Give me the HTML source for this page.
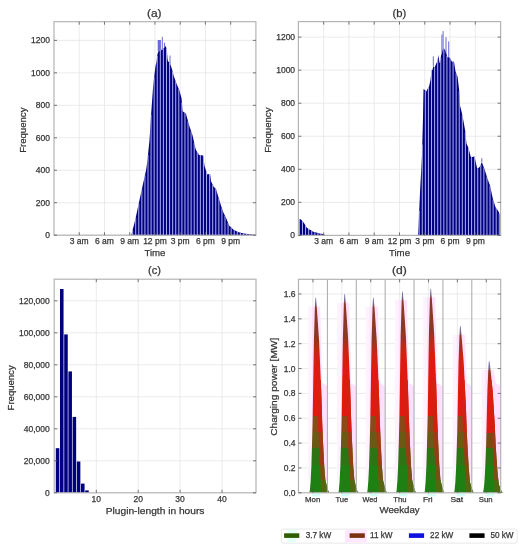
<!DOCTYPE html><html><head><meta charset="utf-8"><style>html,body{margin:0;padding:0;background:#fff;overflow:hidden;width:526px;height:550px;}svg{display:block;filter:blur(0.4px);} text{font-family:"Liberation Sans",sans-serif;}</style></head><body><svg width="526" height="550" viewBox="0 0 526 550" font-family="Liberation Sans, sans-serif">
<rect width="526" height="550" fill="#fff"/>
<line x1="79.24" y1="21.7" x2="79.24" y2="235.2" stroke="#e6e6e6" stroke-width="0.8" />
<line x1="104.47" y1="21.7" x2="104.47" y2="235.2" stroke="#e6e6e6" stroke-width="0.8" />
<line x1="129.71" y1="21.7" x2="129.71" y2="235.2" stroke="#e6e6e6" stroke-width="0.8" />
<line x1="154.95" y1="21.7" x2="154.95" y2="235.2" stroke="#e6e6e6" stroke-width="0.8" />
<line x1="180.19" y1="21.7" x2="180.19" y2="235.2" stroke="#e6e6e6" stroke-width="0.8" />
<line x1="205.43" y1="21.7" x2="205.43" y2="235.2" stroke="#e6e6e6" stroke-width="0.8" />
<line x1="230.66" y1="21.7" x2="230.66" y2="235.2" stroke="#e6e6e6" stroke-width="0.8" />
<line x1="54" y1="235.2" x2="255.9" y2="235.2" stroke="#e6e6e6" stroke-width="0.8" />
<line x1="54" y1="202.73" x2="255.9" y2="202.73" stroke="#e6e6e6" stroke-width="0.8" />
<line x1="54" y1="170.26" x2="255.9" y2="170.26" stroke="#e6e6e6" stroke-width="0.8" />
<line x1="54" y1="137.79" x2="255.9" y2="137.79" stroke="#e6e6e6" stroke-width="0.8" />
<line x1="54" y1="105.32" x2="255.9" y2="105.32" stroke="#e6e6e6" stroke-width="0.8" />
<line x1="54" y1="72.85" x2="255.9" y2="72.85" stroke="#e6e6e6" stroke-width="0.8" />
<line x1="54" y1="40.38" x2="255.9" y2="40.38" stroke="#e6e6e6" stroke-width="0.8" />
<path d="M131,235.2 L131,235.2 L131.5,234.5 L132,232.54 L132.5,230.58 L133,228.62 L133.5,226.66 L134,224.7 L134.5,222.74 L135,220.78 L135.5,218.6 L136,216.28 L136.5,213.95 L137,211.63 L137.5,209.3 L138,206.98 L138.5,204.65 L139,202.33 L139.5,200 L140,197.73 L140.5,195.45 L141,193.18 L141.5,190.91 L142,188.64 L142.5,186.36 L143,184.09 L143.5,181.82 L144,179.55 L144.5,177.27 L145,175 L145.5,172.73 L146,170.45 L146.5,167.14 L147,163.57 L147.5,160 L148,155 L148.5,150 L149,145 L149.5,140 L150,131.89 L150.5,123.79 L151,115.91 L151.5,108.95 L152,102 L152.5,95.05 L153,88.09 L153.5,83.25 L154,78.94 L154.5,74.62 L155,70.31 L155.5,66 L156,64 L156.5,62 L157,58 L157.5,54 L158,52.59 L158.5,51.18 L159,50.71 L159.5,50.47 L160,50.24 L160.5,50 L161,49.89 L161.5,49.77 L162,49.66 L162.5,49.55 L163,49.08 L163.5,48.39 L164,47.69 L164.5,47 L165,46.61 L165.5,46.21 L166,46.45 L166.5,49.23 L167,52 L167.5,58.71 L168,61.5 L168.5,61.67 L169,61.83 L169.5,62 L170,63.43 L170.5,64.87 L171,66.3 L171.5,67.74 L172,69.37 L172.5,71.28 L173,73.2 L173.5,75.12 L174,76.65 L174.5,78.09 L175,79.53 L175.5,80.96 L176,82.4 L176.5,83.59 L177,84.78 L177.5,85.97 L178,87.16 L178.5,88.36 L179,89.55 L179.5,90.87 L180,92.7 L180.5,94.53 L181,96.37 L181.5,98.2 L182,104.15 L182.5,110.11 L183,111.57 L183.5,111.9 L184,112.23 L184.5,112.57 L185,112.9 L185.5,113.23 L186,113.86 L186.5,115.68 L187,117.5 L187.5,119.32 L188,121.14 L188.5,122.95 L189,124.77 L189.5,126.39 L190,127.88 L190.5,129.36 L191,130.85 L191.5,132.33 L192,133.82 L192.5,135.3 L193,137.52 L193.5,139.74 L194,141.96 L194.5,144.18 L195,146.39 L195.5,148.61 L196,149.99 L196.5,150.81 L197,151.63 L197.5,152.45 L198,153.26 L198.5,154.08 L199,154.9 L199.5,154.97 L200,155.04 L200.5,155.1 L201,155.17 L201.5,155.24 L202,155.31 L202.5,155.38 L203,155.45 L203.5,156.53 L204,161.68 L204.5,166.1 L205,167.6 L205.5,169.1 L206,170.6 L206.5,172.1 L207,173.6 L207.5,174.45 L208,174.33 L208.5,174.21 L209,174.09 L209.5,173.97 L210,173.85 L210.5,176.93 L211,181.3 L211.5,182.3 L212,183.3 L212.5,184.3 L213,185.3 L213.5,186.3 L214,187.1 L214.5,187.6 L215,188.1 L215.5,188.6 L216,189.1 L216.5,190.76 L217,192.42 L217.5,194.08 L218,195.74 L218.5,197.38 L219,199.02 L219.5,200.65 L220,202.29 L220.5,203.9 L221,205.42 L221.5,206.94 L222,208.46 L222.5,209.97 L223,211.49 L223.5,212.8 L224,213.8 L224.5,214.8 L225,215.8 L225.5,216.8 L226,217.8 L226.5,218.96 L227,220.21 L227.5,221.47 L228,222.73 L228.5,223.99 L229,225.25 L229.5,225.89 L230,226.38 L230.5,226.87 L231,227.36 L231.5,227.85 L232,228.33 L232.5,228.82 L233,229.31 L233.5,229.8 L234,230.06 L234.5,230.31 L235,230.57 L235.5,230.82 L236,231.08 L236.5,231.33 L237,231.59 L237.5,231.85 L238,232.05 L238.5,232.18 L239,232.31 L239.5,232.44 L240,232.57 L240.5,232.7 L241,232.83 L241.5,232.96 L242,233.09 L242.5,233.22 L243,233.34 L243.5,233.47 L244,233.55 L244.5,233.61 L245,233.67 L245.5,233.73 L246,233.78 L246.5,233.84 L247,233.9 L247.5,233.96 L248,234.02 L248.5,234.08 L249,234.14 L249.5,234.2 L250,234.26 L250.5,234.32 L251,234.39 L251.5,234.45 L252,234.51 L252.5,234.57 L253,234.64 L253.5,234.7 L254,234.76 L254.5,234.82 L255,234.89 L255.5,234.95 L255.9,235 L255.9,235.2 Z" fill="#000080"/>
<rect x="157.7" y="40" width="3.2" height="11.07" fill="#6a6ad8"/>
<rect x="161.8" y="36.8" width="1" height="13.29" fill="#6a6ad8"/>
<rect x="164" y="42.7" width="1" height="4.8" fill="#6a6ad8"/>
<rect x="169.5" y="55.5" width="1" height="8.43" fill="#6a6ad8"/>
<line x1="132.6" y1="230.19" x2="132.6" y2="235.2" stroke="#c4c4ff" stroke-width="1.05" stroke-opacity="0.85"/>
<line x1="135.68" y1="217.77" x2="135.68" y2="235.2" stroke="#c4c4ff" stroke-width="1.05" stroke-opacity="0.85"/>
<line x1="138.76" y1="203.44" x2="138.76" y2="235.2" stroke="#c4c4ff" stroke-width="1.05" stroke-opacity="0.85"/>
<line x1="141.84" y1="189.36" x2="141.84" y2="235.2" stroke="#c4c4ff" stroke-width="1.05" stroke-opacity="0.85"/>
<line x1="144.92" y1="175.36" x2="144.92" y2="235.2" stroke="#c4c4ff" stroke-width="1.05" stroke-opacity="0.85"/>
<line x1="148" y1="155" x2="148" y2="235.2" stroke="#c4c4ff" stroke-width="1.05" stroke-opacity="0.85"/>
<line x1="151.08" y1="114.8" x2="151.08" y2="235.2" stroke="#c4c4ff" stroke-width="1.05" stroke-opacity="0.85"/>
<line x1="154.16" y1="77.56" x2="154.16" y2="235.2" stroke="#c4c4ff" stroke-width="1.05" stroke-opacity="0.85"/>
<line x1="157.24" y1="56.08" x2="157.24" y2="235.2" stroke="#c4c4ff" stroke-width="1.05" stroke-opacity="0.85"/>
<line x1="160.32" y1="50.09" x2="160.32" y2="235.2" stroke="#c4c4ff" stroke-width="1.05" stroke-opacity="0.85"/>
<line x1="163.4" y1="48.53" x2="163.4" y2="235.2" stroke="#c4c4ff" stroke-width="1.05" stroke-opacity="0.85"/>
<line x1="166.48" y1="49.12" x2="166.48" y2="235.2" stroke="#c4c4ff" stroke-width="1.05" stroke-opacity="0.85"/>
<line x1="169.56" y1="62.17" x2="169.56" y2="235.2" stroke="#c4c4ff" stroke-width="1.05" stroke-opacity="0.85"/>
<line x1="172.64" y1="71.82" x2="172.64" y2="235.2" stroke="#c4c4ff" stroke-width="1.05" stroke-opacity="0.85"/>
<line x1="175.72" y1="81.6" x2="175.72" y2="235.2" stroke="#c4c4ff" stroke-width="1.05" stroke-opacity="0.85"/>
<line x1="178.8" y1="89.07" x2="178.8" y2="235.2" stroke="#c4c4ff" stroke-width="1.05" stroke-opacity="0.85"/>
<line x1="181.88" y1="102.73" x2="181.88" y2="235.2" stroke="#c4c4ff" stroke-width="1.05" stroke-opacity="0.85"/>
<line x1="184.96" y1="112.87" x2="184.96" y2="235.2" stroke="#c4c4ff" stroke-width="1.05" stroke-opacity="0.85"/>
<line x1="188.04" y1="121.28" x2="188.04" y2="235.2" stroke="#c4c4ff" stroke-width="1.05" stroke-opacity="0.85"/>
<line x1="191.12" y1="131.2" x2="191.12" y2="235.2" stroke="#c4c4ff" stroke-width="1.05" stroke-opacity="0.85"/>
<line x1="194.2" y1="142.84" x2="194.2" y2="235.2" stroke="#c4c4ff" stroke-width="1.05" stroke-opacity="0.85"/>
<line x1="197.28" y1="152.09" x2="197.28" y2="235.2" stroke="#c4c4ff" stroke-width="1.05" stroke-opacity="0.85"/>
<line x1="200.36" y1="155.09" x2="200.36" y2="235.2" stroke="#c4c4ff" stroke-width="1.05" stroke-opacity="0.85"/>
<line x1="203.44" y1="155.91" x2="203.44" y2="235.2" stroke="#c4c4ff" stroke-width="1.05" stroke-opacity="0.85"/>
<line x1="206.52" y1="172.16" x2="206.52" y2="235.2" stroke="#c4c4ff" stroke-width="1.05" stroke-opacity="0.85"/>
<line x1="209.6" y1="173.94" x2="209.6" y2="235.2" stroke="#c4c4ff" stroke-width="1.05" stroke-opacity="0.85"/>
<line x1="212.68" y1="184.66" x2="212.68" y2="235.2" stroke="#c4c4ff" stroke-width="1.05" stroke-opacity="0.85"/>
<line x1="215.76" y1="188.86" x2="215.76" y2="235.2" stroke="#c4c4ff" stroke-width="1.05" stroke-opacity="0.85"/>
<line x1="218.84" y1="198.49" x2="218.84" y2="235.2" stroke="#c4c4ff" stroke-width="1.05" stroke-opacity="0.85"/>
<line x1="221.92" y1="208.21" x2="221.92" y2="235.2" stroke="#c4c4ff" stroke-width="1.05" stroke-opacity="0.85"/>
<line x1="225" y1="215.8" x2="225" y2="235.2" stroke="#c4c4ff" stroke-width="1.05" stroke-opacity="0.85"/>
<line x1="228.08" y1="222.93" x2="228.08" y2="235.2" stroke="#c4c4ff" stroke-width="1.05" stroke-opacity="0.85"/>
<line x1="231.16" y1="227.51" x2="231.16" y2="235.2" stroke="#c4c4ff" stroke-width="1.05" stroke-opacity="0.85"/>
<line x1="234.24" y1="230.18" x2="234.24" y2="235.2" stroke="#c4c4ff" stroke-width="1.05" stroke-opacity="0.85"/>
<line x1="237.32" y1="231.75" x2="237.32" y2="235.2" stroke="#c4c4ff" stroke-width="1.05" stroke-opacity="0.85"/>
<line x1="240.4" y1="232.67" x2="240.4" y2="235.2" stroke="#c4c4ff" stroke-width="1.05" stroke-opacity="0.85"/>
<line x1="243.48" y1="233.47" x2="243.48" y2="235.2" stroke="#c4c4ff" stroke-width="1.05" stroke-opacity="0.85"/>
<line x1="246.56" y1="233.85" x2="246.56" y2="235.2" stroke="#c4c4ff" stroke-width="1.05" stroke-opacity="0.85"/>
<line x1="249.64" y1="234.22" x2="249.64" y2="235.2" stroke="#c4c4ff" stroke-width="1.05" stroke-opacity="0.85"/>
<line x1="252.72" y1="234.6" x2="252.72" y2="235.2" stroke="#c4c4ff" stroke-width="1.05" stroke-opacity="0.85"/>
<line x1="255.8" y1="234.99" x2="255.8" y2="235.2" stroke="#c4c4ff" stroke-width="1.05" stroke-opacity="0.85"/>
<rect x="54" y="21.7" width="201.9" height="213.5" fill="none" stroke="#b4b4b4" stroke-width="1.2"/>
<line x1="79.24" y1="235.2" x2="79.24" y2="232.2" stroke="#555" stroke-width="0.8" />
<line x1="79.24" y1="21.7" x2="79.24" y2="24.7" stroke="#555" stroke-width="0.8" />
<line x1="104.47" y1="235.2" x2="104.47" y2="232.2" stroke="#555" stroke-width="0.8" />
<line x1="104.47" y1="21.7" x2="104.47" y2="24.7" stroke="#555" stroke-width="0.8" />
<line x1="129.71" y1="235.2" x2="129.71" y2="232.2" stroke="#555" stroke-width="0.8" />
<line x1="129.71" y1="21.7" x2="129.71" y2="24.7" stroke="#555" stroke-width="0.8" />
<line x1="154.95" y1="235.2" x2="154.95" y2="232.2" stroke="#555" stroke-width="0.8" />
<line x1="154.95" y1="21.7" x2="154.95" y2="24.7" stroke="#555" stroke-width="0.8" />
<line x1="180.19" y1="235.2" x2="180.19" y2="232.2" stroke="#555" stroke-width="0.8" />
<line x1="180.19" y1="21.7" x2="180.19" y2="24.7" stroke="#555" stroke-width="0.8" />
<line x1="205.43" y1="235.2" x2="205.43" y2="232.2" stroke="#555" stroke-width="0.8" />
<line x1="205.43" y1="21.7" x2="205.43" y2="24.7" stroke="#555" stroke-width="0.8" />
<line x1="230.66" y1="235.2" x2="230.66" y2="232.2" stroke="#555" stroke-width="0.8" />
<line x1="230.66" y1="21.7" x2="230.66" y2="24.7" stroke="#555" stroke-width="0.8" />
<line x1="54" y1="235.2" x2="57" y2="235.2" stroke="#555" stroke-width="0.8" />
<line x1="255.9" y1="235.2" x2="252.9" y2="235.2" stroke="#555" stroke-width="0.8" />
<line x1="54" y1="202.73" x2="57" y2="202.73" stroke="#555" stroke-width="0.8" />
<line x1="255.9" y1="202.73" x2="252.9" y2="202.73" stroke="#555" stroke-width="0.8" />
<line x1="54" y1="170.26" x2="57" y2="170.26" stroke="#555" stroke-width="0.8" />
<line x1="255.9" y1="170.26" x2="252.9" y2="170.26" stroke="#555" stroke-width="0.8" />
<line x1="54" y1="137.79" x2="57" y2="137.79" stroke="#555" stroke-width="0.8" />
<line x1="255.9" y1="137.79" x2="252.9" y2="137.79" stroke="#555" stroke-width="0.8" />
<line x1="54" y1="105.32" x2="57" y2="105.32" stroke="#555" stroke-width="0.8" />
<line x1="255.9" y1="105.32" x2="252.9" y2="105.32" stroke="#555" stroke-width="0.8" />
<line x1="54" y1="72.85" x2="57" y2="72.85" stroke="#555" stroke-width="0.8" />
<line x1="255.9" y1="72.85" x2="252.9" y2="72.85" stroke="#555" stroke-width="0.8" />
<line x1="54" y1="40.38" x2="57" y2="40.38" stroke="#555" stroke-width="0.8" />
<line x1="255.9" y1="40.38" x2="252.9" y2="40.38" stroke="#555" stroke-width="0.8" />
<text x="79.24" y="243.9" font-size="8.5" text-anchor="middle" fill="#363636" stroke="#363636" stroke-width="0.25" >3 am</text>
<text x="104.47" y="243.9" font-size="8.5" text-anchor="middle" fill="#363636" stroke="#363636" stroke-width="0.25" >6 am</text>
<text x="129.71" y="243.9" font-size="8.5" text-anchor="middle" fill="#363636" stroke="#363636" stroke-width="0.25" >9 am</text>
<text x="154.95" y="243.9" font-size="8.5" text-anchor="middle" fill="#363636" stroke="#363636" stroke-width="0.25" >12 pm</text>
<text x="180.19" y="243.9" font-size="8.5" text-anchor="middle" fill="#363636" stroke="#363636" stroke-width="0.25" >3 pm</text>
<text x="205.43" y="243.9" font-size="8.5" text-anchor="middle" fill="#363636" stroke="#363636" stroke-width="0.25" >6 pm</text>
<text x="230.66" y="243.9" font-size="8.5" text-anchor="middle" fill="#363636" stroke="#363636" stroke-width="0.25" >9 pm</text>
<text x="50" y="238.2" font-size="8.5" text-anchor="end" fill="#363636" stroke="#363636" stroke-width="0.25" >0</text>
<text x="50" y="205.73" font-size="8.5" text-anchor="end" fill="#363636" stroke="#363636" stroke-width="0.25" >200</text>
<text x="50" y="173.26" font-size="8.5" text-anchor="end" fill="#363636" stroke="#363636" stroke-width="0.25" >400</text>
<text x="50" y="140.79" font-size="8.5" text-anchor="end" fill="#363636" stroke="#363636" stroke-width="0.25" >600</text>
<text x="50" y="108.32" font-size="8.5" text-anchor="end" fill="#363636" stroke="#363636" stroke-width="0.25" >800</text>
<text x="50" y="75.85" font-size="8.5" text-anchor="end" fill="#363636" stroke="#363636" stroke-width="0.25" >1000</text>
<text x="50" y="43.38" font-size="8.5" text-anchor="end" fill="#363636" stroke="#363636" stroke-width="0.25" >1200</text>
<text x="154.95" y="256.4" font-size="9.8" text-anchor="middle" fill="#363636" stroke="#363636" stroke-width="0.25" textLength="21.1" lengthAdjust="spacingAndGlyphs" >Time</text>
<text x="154.25" y="16.6" font-size="10.5" text-anchor="middle" fill="#363636" stroke="#363636" stroke-width="0.25" textLength="14.6" lengthAdjust="spacingAndGlyphs" >(a)</text>
<text x="26.2" y="130.2" font-size="9" text-anchor="middle" fill="#363636" stroke="#363636" stroke-width="0.25" textLength="45.3" lengthAdjust="spacingAndGlyphs" transform="rotate(-90 26.2 130.2)" >Frequency</text>
<line x1="323.67" y1="21.6" x2="323.67" y2="235.4" stroke="#e6e6e6" stroke-width="0.8" />
<line x1="348.95" y1="21.6" x2="348.95" y2="235.4" stroke="#e6e6e6" stroke-width="0.8" />
<line x1="374.23" y1="21.6" x2="374.23" y2="235.4" stroke="#e6e6e6" stroke-width="0.8" />
<line x1="399.5" y1="21.6" x2="399.5" y2="235.4" stroke="#e6e6e6" stroke-width="0.8" />
<line x1="424.78" y1="21.6" x2="424.78" y2="235.4" stroke="#e6e6e6" stroke-width="0.8" />
<line x1="450.05" y1="21.6" x2="450.05" y2="235.4" stroke="#e6e6e6" stroke-width="0.8" />
<line x1="475.33" y1="21.6" x2="475.33" y2="235.4" stroke="#e6e6e6" stroke-width="0.8" />
<line x1="298.4" y1="235.4" x2="500.6" y2="235.4" stroke="#e6e6e6" stroke-width="0.8" />
<line x1="298.4" y1="202.35" x2="500.6" y2="202.35" stroke="#e6e6e6" stroke-width="0.8" />
<line x1="298.4" y1="169.3" x2="500.6" y2="169.3" stroke="#e6e6e6" stroke-width="0.8" />
<line x1="298.4" y1="136.25" x2="500.6" y2="136.25" stroke="#e6e6e6" stroke-width="0.8" />
<line x1="298.4" y1="103.2" x2="500.6" y2="103.2" stroke="#e6e6e6" stroke-width="0.8" />
<line x1="298.4" y1="70.15" x2="500.6" y2="70.15" stroke="#e6e6e6" stroke-width="0.8" />
<line x1="298.4" y1="37.1" x2="500.6" y2="37.1" stroke="#e6e6e6" stroke-width="0.8" />
<path d="M298.4,235.4 L298.4,218.6 L298.9,218.75 L299.4,218.89 L299.9,219.04 L300.4,219.29 L300.9,219.61 L301.4,219.94 L301.9,220.43 L302.4,220.97 L302.9,221.55 L303.4,222.3 L303.9,223.05 L304.4,223.8 L304.9,224.61 L305.4,225.45 L305.9,226.29 L306.4,227.13 L306.9,227.63 L307.4,228.04 L307.9,228.45 L308.4,228.85 L308.9,229.2 L309.4,229.45 L309.9,229.7 L310.4,229.95 L310.9,230.26 L311.4,230.58 L311.9,230.9 L312.4,231.22 L312.9,231.54 L313.4,231.82 L313.9,231.95 L314.4,232.07 L314.9,232.2 L315.4,232.32 L315.9,232.45 L316.4,232.57 L316.9,232.7 L317.4,232.85 L317.9,233 L318.4,233.14 L318.9,233.29 L319.4,233.44 L319.9,233.55 L320.4,233.63 L320.9,233.71 L321.4,233.79 L321.9,233.87 L322.4,233.95 L322.9,234.04 L323.4,234.15 L323.9,234.4 L324.4,234.65 L324.9,234.9 L325.4,235.15 L325.9,235.2 L326,235.2 L326,235.4 Z" fill="#000080"/>
<line x1="299.4" y1="218.89" x2="299.4" y2="235.4" stroke="#c4c4ff" stroke-width="1.05" stroke-opacity="0.85"/>
<line x1="302.48" y1="221.06" x2="302.48" y2="235.4" stroke="#c4c4ff" stroke-width="1.05" stroke-opacity="0.85"/>
<line x1="305.56" y1="225.72" x2="305.56" y2="235.4" stroke="#c4c4ff" stroke-width="1.05" stroke-opacity="0.85"/>
<line x1="308.64" y1="229.05" x2="308.64" y2="235.4" stroke="#c4c4ff" stroke-width="1.05" stroke-opacity="0.85"/>
<line x1="311.72" y1="230.78" x2="311.72" y2="235.4" stroke="#c4c4ff" stroke-width="1.05" stroke-opacity="0.85"/>
<line x1="314.8" y1="232.17" x2="314.8" y2="235.4" stroke="#c4c4ff" stroke-width="1.05" stroke-opacity="0.85"/>
<line x1="317.88" y1="232.99" x2="317.88" y2="235.4" stroke="#c4c4ff" stroke-width="1.05" stroke-opacity="0.85"/>
<line x1="320.96" y1="233.72" x2="320.96" y2="235.4" stroke="#c4c4ff" stroke-width="1.05" stroke-opacity="0.85"/>
<line x1="324.04" y1="234.47" x2="324.04" y2="235.4" stroke="#c4c4ff" stroke-width="1.05" stroke-opacity="0.85"/>
<path d="M418,235.4 L418,235.4 L418.5,227 L419,215.56 L419.5,204.14 L420,192.76 L420.5,182.74 L421,173.64 L421.5,164.56 L422,155.5 L422.5,136.4 L423,117.3 L423.5,89.12 L424,89.41 L424.5,89.71 L425,90 L425.5,90.75 L426,91.5 L426.5,91.15 L427,90.08 L427.5,89 L428,88.32 L428.5,87.64 L429,86.66 L429.5,84.44 L430,82.22 L430.5,80 L431,75 L431.5,70 L432,70 L432.5,70 L433,67.5 L433.5,66.33 L434,67.17 L434.5,68 L435,66.6 L435.5,65.2 L436,64.13 L436.5,63.07 L437,62 L437.5,60 L438,58 L438.5,56 L439,59.31 L439.5,62.62 L440,63.17 L440.5,59.58 L441,56 L441.5,54 L442,52 L442.5,50 L443,49.1 L443.5,48.2 L444,48.76 L444.5,49.31 L445,49.87 L445.5,50.83 L446,52.42 L446.5,54 L447,56.31 L447.5,57.58 L448,57.29 L448.5,57 L449,57.29 L449.5,57.58 L450,58.23 L450.5,59.12 L451,60 L451.5,60.9 L452,61.8 L452.5,61.8 L453,61.8 L453.5,61.8 L454,61.8 L454.5,65 L455,68.2 L455.5,71.4 L456,72.69 L456.5,73.97 L457,75.26 L457.5,76.54 L458,80.32 L458.5,84.72 L459,89.12 L459.5,93.68 L460,105.5 L460.5,107.5 L461,109.5 L461.5,111.5 L462,113.71 L462.5,116.24 L463,118.77 L463.5,121.29 L464,124.09 L464.5,126.96 L465,129.83 L465.5,132.7 L466,138.76 L466.5,143.81 L467,144.83 L467.5,145.86 L468,146.89 L468.5,148.41 L469,150.26 L469.5,152.11 L470,153.97 L470.5,155.82 L471,157.28 L471.5,157.15 L472,157.03 L472.5,156.9 L473,156.78 L473.5,156.65 L474,156.53 L474.5,156.4 L475,158.67 L475.5,160.94 L476,163.2 L476.5,165.47 L477,167.74 L477.5,168.9 L478,168.4 L478.5,167.9 L479,167.4 L479.5,166.9 L480,166.4 L480.5,165.18 L481,163.96 L481.5,162.73 L482,162.53 L482.5,163.84 L483,165.16 L483.5,166.47 L484,167.79 L484.5,169.1 L485,170.72 L485.5,172.35 L486,173.97 L486.5,175.6 L487,177.22 L487.5,178.74 L488,180.09 L488.5,181.44 L489,182.8 L489.5,184.15 L490,185.5 L490.5,187.85 L491,190.2 L491.5,192.56 L492,194.91 L492.5,197.26 L493,199.18 L493.5,200.8 L494,202.43 L494.5,204.05 L495,205.68 L495.5,207.3 L496,207.97 L496.5,208.63 L497,209.3 L497.5,209.97 L498,210.63 L498.5,211.59 L499,212.73 L499.5,213.88 L500,215.02 L500.5,216.17 L500.6,216.4 L500.6,235.4 Z" fill="#000080"/>
<rect x="432.8" y="56.4" width="1" height="10.1" fill="#6a6ad8"/>
<rect x="438" y="55.7" width="1" height="0.8" fill="#6a6ad8"/>
<rect x="441.4" y="34.5" width="1" height="18.4" fill="#6a6ad8"/>
<rect x="442.6" y="31.1" width="1" height="18.32" fill="#6a6ad8"/>
<rect x="445.5" y="37.3" width="1" height="15.62" fill="#6a6ad8"/>
<rect x="448.2" y="41.4" width="1" height="16.22" fill="#6a6ad8"/>
<rect x="481.3" y="158.2" width="1" height="4.3" fill="#6a6ad8"/>
<line x1="419.2" y1="210.99" x2="419.2" y2="235.4" stroke="#c4c4ff" stroke-width="1.05" stroke-opacity="0.85"/>
<line x1="422.28" y1="144.8" x2="422.28" y2="235.4" stroke="#c4c4ff" stroke-width="1.05" stroke-opacity="0.85"/>
<line x1="425.36" y1="90.54" x2="425.36" y2="235.4" stroke="#c4c4ff" stroke-width="1.05" stroke-opacity="0.85"/>
<line x1="428.44" y1="87.72" x2="428.44" y2="235.4" stroke="#c4c4ff" stroke-width="1.05" stroke-opacity="0.85"/>
<line x1="431.52" y1="70" x2="431.52" y2="235.4" stroke="#c4c4ff" stroke-width="1.05" stroke-opacity="0.85"/>
<line x1="434.6" y1="67.72" x2="434.6" y2="235.4" stroke="#c4c4ff" stroke-width="1.05" stroke-opacity="0.85"/>
<line x1="437.68" y1="59.28" x2="437.68" y2="235.4" stroke="#c4c4ff" stroke-width="1.05" stroke-opacity="0.85"/>
<line x1="440.76" y1="57.72" x2="440.76" y2="235.4" stroke="#c4c4ff" stroke-width="1.05" stroke-opacity="0.85"/>
<line x1="443.84" y1="48.58" x2="443.84" y2="235.4" stroke="#c4c4ff" stroke-width="1.05" stroke-opacity="0.85"/>
<line x1="446.92" y1="55.94" x2="446.92" y2="235.4" stroke="#c4c4ff" stroke-width="1.05" stroke-opacity="0.85"/>
<line x1="450" y1="58.23" x2="450" y2="235.4" stroke="#c4c4ff" stroke-width="1.05" stroke-opacity="0.85"/>
<line x1="453.08" y1="61.8" x2="453.08" y2="235.4" stroke="#c4c4ff" stroke-width="1.05" stroke-opacity="0.85"/>
<line x1="456.16" y1="73.1" x2="456.16" y2="235.4" stroke="#c4c4ff" stroke-width="1.05" stroke-opacity="0.85"/>
<line x1="459.24" y1="91.29" x2="459.24" y2="235.4" stroke="#c4c4ff" stroke-width="1.05" stroke-opacity="0.85"/>
<line x1="462.32" y1="115.33" x2="462.32" y2="235.4" stroke="#c4c4ff" stroke-width="1.05" stroke-opacity="0.85"/>
<line x1="465.4" y1="132.13" x2="465.4" y2="235.4" stroke="#c4c4ff" stroke-width="1.05" stroke-opacity="0.85"/>
<line x1="468.48" y1="148.34" x2="468.48" y2="235.4" stroke="#c4c4ff" stroke-width="1.05" stroke-opacity="0.85"/>
<line x1="471.56" y1="157.14" x2="471.56" y2="235.4" stroke="#c4c4ff" stroke-width="1.05" stroke-opacity="0.85"/>
<line x1="474.64" y1="157.03" x2="474.64" y2="235.4" stroke="#c4c4ff" stroke-width="1.05" stroke-opacity="0.85"/>
<line x1="477.72" y1="168.68" x2="477.72" y2="235.4" stroke="#c4c4ff" stroke-width="1.05" stroke-opacity="0.85"/>
<line x1="480.8" y1="164.44" x2="480.8" y2="235.4" stroke="#c4c4ff" stroke-width="1.05" stroke-opacity="0.85"/>
<line x1="483.88" y1="167.47" x2="483.88" y2="235.4" stroke="#c4c4ff" stroke-width="1.05" stroke-opacity="0.85"/>
<line x1="486.96" y1="177.09" x2="486.96" y2="235.4" stroke="#c4c4ff" stroke-width="1.05" stroke-opacity="0.85"/>
<line x1="490.04" y1="185.69" x2="490.04" y2="235.4" stroke="#c4c4ff" stroke-width="1.05" stroke-opacity="0.85"/>
<line x1="493.12" y1="199.56" x2="493.12" y2="235.4" stroke="#c4c4ff" stroke-width="1.05" stroke-opacity="0.85"/>
<line x1="496.2" y1="208.23" x2="496.2" y2="235.4" stroke="#c4c4ff" stroke-width="1.05" stroke-opacity="0.85"/>
<line x1="499.28" y1="213.37" x2="499.28" y2="235.4" stroke="#c4c4ff" stroke-width="1.05" stroke-opacity="0.85"/>
<rect x="298.4" y="21.6" width="202.2" height="213.8" fill="none" stroke="#b4b4b4" stroke-width="1.2"/>
<line x1="323.67" y1="235.4" x2="323.67" y2="232.4" stroke="#555" stroke-width="0.8" />
<line x1="323.67" y1="21.6" x2="323.67" y2="24.6" stroke="#555" stroke-width="0.8" />
<line x1="348.95" y1="235.4" x2="348.95" y2="232.4" stroke="#555" stroke-width="0.8" />
<line x1="348.95" y1="21.6" x2="348.95" y2="24.6" stroke="#555" stroke-width="0.8" />
<line x1="374.23" y1="235.4" x2="374.23" y2="232.4" stroke="#555" stroke-width="0.8" />
<line x1="374.23" y1="21.6" x2="374.23" y2="24.6" stroke="#555" stroke-width="0.8" />
<line x1="399.5" y1="235.4" x2="399.5" y2="232.4" stroke="#555" stroke-width="0.8" />
<line x1="399.5" y1="21.6" x2="399.5" y2="24.6" stroke="#555" stroke-width="0.8" />
<line x1="424.78" y1="235.4" x2="424.78" y2="232.4" stroke="#555" stroke-width="0.8" />
<line x1="424.78" y1="21.6" x2="424.78" y2="24.6" stroke="#555" stroke-width="0.8" />
<line x1="450.05" y1="235.4" x2="450.05" y2="232.4" stroke="#555" stroke-width="0.8" />
<line x1="450.05" y1="21.6" x2="450.05" y2="24.6" stroke="#555" stroke-width="0.8" />
<line x1="475.33" y1="235.4" x2="475.33" y2="232.4" stroke="#555" stroke-width="0.8" />
<line x1="475.33" y1="21.6" x2="475.33" y2="24.6" stroke="#555" stroke-width="0.8" />
<line x1="298.4" y1="235.4" x2="301.4" y2="235.4" stroke="#555" stroke-width="0.8" />
<line x1="500.6" y1="235.4" x2="497.6" y2="235.4" stroke="#555" stroke-width="0.8" />
<line x1="298.4" y1="202.35" x2="301.4" y2="202.35" stroke="#555" stroke-width="0.8" />
<line x1="500.6" y1="202.35" x2="497.6" y2="202.35" stroke="#555" stroke-width="0.8" />
<line x1="298.4" y1="169.3" x2="301.4" y2="169.3" stroke="#555" stroke-width="0.8" />
<line x1="500.6" y1="169.3" x2="497.6" y2="169.3" stroke="#555" stroke-width="0.8" />
<line x1="298.4" y1="136.25" x2="301.4" y2="136.25" stroke="#555" stroke-width="0.8" />
<line x1="500.6" y1="136.25" x2="497.6" y2="136.25" stroke="#555" stroke-width="0.8" />
<line x1="298.4" y1="103.2" x2="301.4" y2="103.2" stroke="#555" stroke-width="0.8" />
<line x1="500.6" y1="103.2" x2="497.6" y2="103.2" stroke="#555" stroke-width="0.8" />
<line x1="298.4" y1="70.15" x2="301.4" y2="70.15" stroke="#555" stroke-width="0.8" />
<line x1="500.6" y1="70.15" x2="497.6" y2="70.15" stroke="#555" stroke-width="0.8" />
<line x1="298.4" y1="37.1" x2="301.4" y2="37.1" stroke="#555" stroke-width="0.8" />
<line x1="500.6" y1="37.1" x2="497.6" y2="37.1" stroke="#555" stroke-width="0.8" />
<text x="323.67" y="244.1" font-size="8.5" text-anchor="middle" fill="#363636" stroke="#363636" stroke-width="0.25" >3 am</text>
<text x="348.95" y="244.1" font-size="8.5" text-anchor="middle" fill="#363636" stroke="#363636" stroke-width="0.25" >6 am</text>
<text x="374.23" y="244.1" font-size="8.5" text-anchor="middle" fill="#363636" stroke="#363636" stroke-width="0.25" >9 am</text>
<text x="399.5" y="244.1" font-size="8.5" text-anchor="middle" fill="#363636" stroke="#363636" stroke-width="0.25" >12 pm</text>
<text x="424.78" y="244.1" font-size="8.5" text-anchor="middle" fill="#363636" stroke="#363636" stroke-width="0.25" >3 pm</text>
<text x="450.05" y="244.1" font-size="8.5" text-anchor="middle" fill="#363636" stroke="#363636" stroke-width="0.25" >6 pm</text>
<text x="475.33" y="244.1" font-size="8.5" text-anchor="middle" fill="#363636" stroke="#363636" stroke-width="0.25" >9 pm</text>
<text x="295.1" y="238.4" font-size="8.5" text-anchor="end" fill="#363636" stroke="#363636" stroke-width="0.25" >0</text>
<text x="295.1" y="205.35" font-size="8.5" text-anchor="end" fill="#363636" stroke="#363636" stroke-width="0.25" >200</text>
<text x="295.1" y="172.3" font-size="8.5" text-anchor="end" fill="#363636" stroke="#363636" stroke-width="0.25" >400</text>
<text x="295.1" y="139.25" font-size="8.5" text-anchor="end" fill="#363636" stroke="#363636" stroke-width="0.25" >600</text>
<text x="295.1" y="106.2" font-size="8.5" text-anchor="end" fill="#363636" stroke="#363636" stroke-width="0.25" >800</text>
<text x="295.1" y="73.15" font-size="8.5" text-anchor="end" fill="#363636" stroke="#363636" stroke-width="0.25" >1000</text>
<text x="295.1" y="40.1" font-size="8.5" text-anchor="end" fill="#363636" stroke="#363636" stroke-width="0.25" >1200</text>
<text x="399.5" y="256.4" font-size="9.8" text-anchor="middle" fill="#363636" stroke="#363636" stroke-width="0.25" textLength="21.1" lengthAdjust="spacingAndGlyphs" >Time</text>
<text x="399.5" y="16.6" font-size="10.5" text-anchor="middle" fill="#363636" stroke="#363636" stroke-width="0.25" textLength="13.8" lengthAdjust="spacingAndGlyphs" >(b)</text>
<text x="271.3" y="130.2" font-size="9" text-anchor="middle" fill="#363636" stroke="#363636" stroke-width="0.25" textLength="45.3" lengthAdjust="spacingAndGlyphs" transform="rotate(-90 271.3 130.2)" >Frequency</text>
<line x1="96.3" y1="279.2" x2="96.3" y2="492.8" stroke="#e6e6e6" stroke-width="0.8" />
<line x1="138.2" y1="279.2" x2="138.2" y2="492.8" stroke="#e6e6e6" stroke-width="0.8" />
<line x1="180.1" y1="279.2" x2="180.1" y2="492.8" stroke="#e6e6e6" stroke-width="0.8" />
<line x1="222" y1="279.2" x2="222" y2="492.8" stroke="#e6e6e6" stroke-width="0.8" />
<line x1="54.2" y1="460.8" x2="256" y2="460.8" stroke="#e6e6e6" stroke-width="0.8" />
<line x1="54.2" y1="428.8" x2="256" y2="428.8" stroke="#e6e6e6" stroke-width="0.8" />
<line x1="54.2" y1="396.8" x2="256" y2="396.8" stroke="#e6e6e6" stroke-width="0.8" />
<line x1="54.2" y1="364.8" x2="256" y2="364.8" stroke="#e6e6e6" stroke-width="0.8" />
<line x1="54.2" y1="332.8" x2="256" y2="332.8" stroke="#e6e6e6" stroke-width="0.8" />
<line x1="54.2" y1="300.8" x2="256" y2="300.8" stroke="#e6e6e6" stroke-width="0.8" />
<g fill="#000080">
<rect x="55.8" y="448.2" width="3.55" height="44.6"/>
<rect x="60" y="289" width="3.55" height="203.8"/>
<rect x="64.2" y="334.4" width="3.55" height="158.4"/>
<rect x="68.4" y="371.4" width="3.55" height="121.4"/>
<rect x="72.6" y="416.9" width="3.55" height="75.9"/>
<rect x="76.8" y="461.5" width="3.55" height="31.3"/>
<rect x="81" y="483.6" width="3.55" height="9.2"/>
<rect x="85.2" y="490.4" width="3.55" height="2.4"/>
</g>
<rect x="54.2" y="279.2" width="201.8" height="213.6" fill="none" stroke="#b4b4b4" stroke-width="1.2"/>
<line x1="96.3" y1="492.8" x2="96.3" y2="489.8" stroke="#555" stroke-width="0.8" />
<line x1="96.3" y1="279.2" x2="96.3" y2="282.2" stroke="#555" stroke-width="0.8" />
<line x1="138.2" y1="492.8" x2="138.2" y2="489.8" stroke="#555" stroke-width="0.8" />
<line x1="138.2" y1="279.2" x2="138.2" y2="282.2" stroke="#555" stroke-width="0.8" />
<line x1="180.1" y1="492.8" x2="180.1" y2="489.8" stroke="#555" stroke-width="0.8" />
<line x1="180.1" y1="279.2" x2="180.1" y2="282.2" stroke="#555" stroke-width="0.8" />
<line x1="222" y1="492.8" x2="222" y2="489.8" stroke="#555" stroke-width="0.8" />
<line x1="222" y1="279.2" x2="222" y2="282.2" stroke="#555" stroke-width="0.8" />
<line x1="54.2" y1="492.8" x2="57.2" y2="492.8" stroke="#555" stroke-width="0.8" />
<line x1="256" y1="492.8" x2="253" y2="492.8" stroke="#555" stroke-width="0.8" />
<line x1="54.2" y1="460.8" x2="57.2" y2="460.8" stroke="#555" stroke-width="0.8" />
<line x1="256" y1="460.8" x2="253" y2="460.8" stroke="#555" stroke-width="0.8" />
<line x1="54.2" y1="428.8" x2="57.2" y2="428.8" stroke="#555" stroke-width="0.8" />
<line x1="256" y1="428.8" x2="253" y2="428.8" stroke="#555" stroke-width="0.8" />
<line x1="54.2" y1="396.8" x2="57.2" y2="396.8" stroke="#555" stroke-width="0.8" />
<line x1="256" y1="396.8" x2="253" y2="396.8" stroke="#555" stroke-width="0.8" />
<line x1="54.2" y1="364.8" x2="57.2" y2="364.8" stroke="#555" stroke-width="0.8" />
<line x1="256" y1="364.8" x2="253" y2="364.8" stroke="#555" stroke-width="0.8" />
<line x1="54.2" y1="332.8" x2="57.2" y2="332.8" stroke="#555" stroke-width="0.8" />
<line x1="256" y1="332.8" x2="253" y2="332.8" stroke="#555" stroke-width="0.8" />
<line x1="54.2" y1="300.8" x2="57.2" y2="300.8" stroke="#555" stroke-width="0.8" />
<line x1="256" y1="300.8" x2="253" y2="300.8" stroke="#555" stroke-width="0.8" />
<text x="96.3" y="501.8" font-size="8.5" text-anchor="middle" fill="#363636" stroke="#363636" stroke-width="0.25" >10</text>
<text x="138.2" y="501.8" font-size="8.5" text-anchor="middle" fill="#363636" stroke="#363636" stroke-width="0.25" >20</text>
<text x="180.1" y="501.8" font-size="8.5" text-anchor="middle" fill="#363636" stroke="#363636" stroke-width="0.25" >30</text>
<text x="222" y="501.8" font-size="8.5" text-anchor="middle" fill="#363636" stroke="#363636" stroke-width="0.25" >40</text>
<text x="49.8" y="495.8" font-size="8.5" text-anchor="end" fill="#363636" stroke="#363636" stroke-width="0.25" >0</text>
<text x="49.8" y="463.8" font-size="8.5" text-anchor="end" fill="#363636" stroke="#363636" stroke-width="0.25" >20,000</text>
<text x="49.8" y="431.8" font-size="8.5" text-anchor="end" fill="#363636" stroke="#363636" stroke-width="0.25" >40,000</text>
<text x="49.8" y="399.8" font-size="8.5" text-anchor="end" fill="#363636" stroke="#363636" stroke-width="0.25" >60,000</text>
<text x="49.8" y="367.8" font-size="8.5" text-anchor="end" fill="#363636" stroke="#363636" stroke-width="0.25" >80,000</text>
<text x="49.8" y="335.8" font-size="8.5" text-anchor="end" fill="#363636" stroke="#363636" stroke-width="0.25" >100,000</text>
<text x="49.8" y="303.8" font-size="8.5" text-anchor="end" fill="#363636" stroke="#363636" stroke-width="0.25" >120,000</text>
<text x="155.1" y="513.5" font-size="9.8" text-anchor="middle" fill="#363636" stroke="#363636" stroke-width="0.25" textLength="98.7" lengthAdjust="spacingAndGlyphs" >Plugin-length in hours</text>
<text x="154.5" y="274.4" font-size="10.5" text-anchor="middle" fill="#363636" stroke="#363636" stroke-width="0.25" textLength="13" lengthAdjust="spacingAndGlyphs" >(c)</text>
<text x="14.4" y="387.9" font-size="9" text-anchor="middle" fill="#363636" stroke="#363636" stroke-width="0.25" textLength="45.1" lengthAdjust="spacingAndGlyphs" transform="rotate(-90 14.4 387.9)" >Frequency</text>
<line x1="312.94" y1="279.3" x2="312.94" y2="492.8" stroke="#e6e6e6" stroke-width="0.8" />
<line x1="341.83" y1="279.3" x2="341.83" y2="492.8" stroke="#e6e6e6" stroke-width="0.8" />
<line x1="370.71" y1="279.3" x2="370.71" y2="492.8" stroke="#e6e6e6" stroke-width="0.8" />
<line x1="399.6" y1="279.3" x2="399.6" y2="492.8" stroke="#e6e6e6" stroke-width="0.8" />
<line x1="428.49" y1="279.3" x2="428.49" y2="492.8" stroke="#e6e6e6" stroke-width="0.8" />
<line x1="457.37" y1="279.3" x2="457.37" y2="492.8" stroke="#e6e6e6" stroke-width="0.8" />
<line x1="486.26" y1="279.3" x2="486.26" y2="492.8" stroke="#e6e6e6" stroke-width="0.8" />
<line x1="298.5" y1="467.95" x2="500.7" y2="467.95" stroke="#e6e6e6" stroke-width="0.8" />
<line x1="298.5" y1="443.1" x2="500.7" y2="443.1" stroke="#e6e6e6" stroke-width="0.8" />
<line x1="298.5" y1="418.25" x2="500.7" y2="418.25" stroke="#e6e6e6" stroke-width="0.8" />
<line x1="298.5" y1="393.4" x2="500.7" y2="393.4" stroke="#e6e6e6" stroke-width="0.8" />
<line x1="298.5" y1="368.55" x2="500.7" y2="368.55" stroke="#e6e6e6" stroke-width="0.8" />
<line x1="298.5" y1="343.7" x2="500.7" y2="343.7" stroke="#e6e6e6" stroke-width="0.8" />
<line x1="298.5" y1="318.85" x2="500.7" y2="318.85" stroke="#e6e6e6" stroke-width="0.8" />
<line x1="298.5" y1="294" x2="500.7" y2="294" stroke="#e6e6e6" stroke-width="0.8" />
<defs><linearGradient id="pk0" gradientUnits="userSpaceOnUse" x1="0" y1="297.73" x2="0" y2="492.8"><stop offset="0.0000" stop-color="#7878b0"/><stop offset="0.0308" stop-color="#7a6a98"/><stop offset="0.0513" stop-color="#8a3a22"/><stop offset="0.2051" stop-color="#8a3a22"/><stop offset="0.2871" stop-color="#c82614"/><stop offset="0.3588" stop-color="#e01a10"/><stop offset="0.6048" stop-color="#e01a10"/><stop offset="0.6078" stop-color="#8a4a18"/><stop offset="0.6868" stop-color="#8a4a18"/><stop offset="0.6899" stop-color="#6a5a14"/><stop offset="0.7688" stop-color="#6a5a14"/><stop offset="0.7719" stop-color="#2e7414"/><stop offset="0.8560" stop-color="#2e7414"/><stop offset="0.8590" stop-color="#1e8012"/><stop offset="1.0000" stop-color="#1e8012"/></linearGradient><linearGradient id="pk1" gradientUnits="userSpaceOnUse" x1="0" y1="294" x2="0" y2="492.8"><stop offset="0.0000" stop-color="#7878b0"/><stop offset="0.0302" stop-color="#7a6a98"/><stop offset="0.0503" stop-color="#8a3a22"/><stop offset="0.2012" stop-color="#8a3a22"/><stop offset="0.2817" stop-color="#c82614"/><stop offset="0.3521" stop-color="#e01a10"/><stop offset="0.6122" stop-color="#e01a10"/><stop offset="0.6152" stop-color="#8a4a18"/><stop offset="0.6927" stop-color="#8a4a18"/><stop offset="0.6957" stop-color="#6a5a14"/><stop offset="0.7731" stop-color="#6a5a14"/><stop offset="0.7762" stop-color="#2e7414"/><stop offset="0.8587" stop-color="#2e7414"/><stop offset="0.8617" stop-color="#1e8012"/><stop offset="1.0000" stop-color="#1e8012"/></linearGradient><linearGradient id="pk2" gradientUnits="userSpaceOnUse" x1="0" y1="297.73" x2="0" y2="492.8"><stop offset="0.0000" stop-color="#7878b0"/><stop offset="0.0308" stop-color="#7a6a98"/><stop offset="0.0513" stop-color="#8a3a22"/><stop offset="0.2051" stop-color="#8a3a22"/><stop offset="0.2871" stop-color="#c82614"/><stop offset="0.3588" stop-color="#e01a10"/><stop offset="0.6048" stop-color="#e01a10"/><stop offset="0.6078" stop-color="#8a4a18"/><stop offset="0.6868" stop-color="#8a4a18"/><stop offset="0.6899" stop-color="#6a5a14"/><stop offset="0.7688" stop-color="#6a5a14"/><stop offset="0.7719" stop-color="#2e7414"/><stop offset="0.8560" stop-color="#2e7414"/><stop offset="0.8590" stop-color="#1e8012"/><stop offset="1.0000" stop-color="#1e8012"/></linearGradient><linearGradient id="pk3" gradientUnits="userSpaceOnUse" x1="0" y1="291.51" x2="0" y2="492.8"><stop offset="0.0000" stop-color="#7878b0"/><stop offset="0.0298" stop-color="#7a6a98"/><stop offset="0.0497" stop-color="#8a3a22"/><stop offset="0.1987" stop-color="#8a3a22"/><stop offset="0.2782" stop-color="#c82614"/><stop offset="0.3478" stop-color="#e01a10"/><stop offset="0.6170" stop-color="#e01a10"/><stop offset="0.6199" stop-color="#8a4a18"/><stop offset="0.6965" stop-color="#8a4a18"/><stop offset="0.6994" stop-color="#6a5a14"/><stop offset="0.7759" stop-color="#6a5a14"/><stop offset="0.7789" stop-color="#2e7414"/><stop offset="0.8604" stop-color="#2e7414"/><stop offset="0.8634" stop-color="#1e8012"/><stop offset="1.0000" stop-color="#1e8012"/></linearGradient><linearGradient id="pk4" gradientUnits="userSpaceOnUse" x1="0" y1="288.66" x2="0" y2="492.8"><stop offset="0.0000" stop-color="#7878b0"/><stop offset="0.0294" stop-color="#7a6a98"/><stop offset="0.0490" stop-color="#8a3a22"/><stop offset="0.1959" stop-color="#8a3a22"/><stop offset="0.2743" stop-color="#c82614"/><stop offset="0.3429" stop-color="#e01a10"/><stop offset="0.6223" stop-color="#e01a10"/><stop offset="0.6253" stop-color="#8a4a18"/><stop offset="0.7007" stop-color="#8a4a18"/><stop offset="0.7036" stop-color="#6a5a14"/><stop offset="0.7791" stop-color="#6a5a14"/><stop offset="0.7820" stop-color="#2e7414"/><stop offset="0.8624" stop-color="#2e7414"/><stop offset="0.8653" stop-color="#1e8012"/><stop offset="1.0000" stop-color="#1e8012"/></linearGradient><linearGradient id="pk5" gradientUnits="userSpaceOnUse" x1="0" y1="326.06" x2="0" y2="492.8"><stop offset="0.0000" stop-color="#7878b0"/><stop offset="0.0360" stop-color="#7a6a98"/><stop offset="0.0600" stop-color="#8a3a22"/><stop offset="0.0840" stop-color="#8a3a22"/><stop offset="0.1799" stop-color="#c82614"/><stop offset="0.2639" stop-color="#e01a10"/><stop offset="0.5376" stop-color="#e01a10"/><stop offset="0.5412" stop-color="#8a4a18"/><stop offset="0.6336" stop-color="#8a4a18"/><stop offset="0.6372" stop-color="#6a5a14"/><stop offset="0.7295" stop-color="#6a5a14"/><stop offset="0.7331" stop-color="#2e7414"/><stop offset="0.8315" stop-color="#2e7414"/><stop offset="0.8351" stop-color="#1e8012"/><stop offset="1.0000" stop-color="#1e8012"/></linearGradient><linearGradient id="pk6" gradientUnits="userSpaceOnUse" x1="0" y1="361.34" x2="0" y2="492.8"><stop offset="0.0000" stop-color="#7878b0"/><stop offset="0.0456" stop-color="#7a6a98"/><stop offset="0.0761" stop-color="#8a3a22"/><stop offset="0.0609" stop-color="#8a3a22"/><stop offset="0.1826" stop-color="#c82614"/><stop offset="0.2891" stop-color="#e01a10"/><stop offset="0.5428" stop-color="#e01a10"/><stop offset="0.5474" stop-color="#7a4a14"/><stop offset="0.6569" stop-color="#7a4a14"/><stop offset="0.6615" stop-color="#2e7414"/><stop offset="0.7862" stop-color="#2e7414"/><stop offset="0.7908" stop-color="#1e8012"/><stop offset="1.0000" stop-color="#1e8012"/></linearGradient><linearGradient id="sh" gradientUnits="userSpaceOnUse" x1="0" y1="380" x2="0" y2="492.8"><stop offset="0.0000" stop-color="#d82010"/><stop offset="0.4583" stop-color="#d02010"/><stop offset="0.4637" stop-color="#a03a14"/><stop offset="0.7509" stop-color="#983c14"/><stop offset="0.7562" stop-color="#7a5010"/><stop offset="0.8839" stop-color="#7a5010"/><stop offset="0.8892" stop-color="#5a6410"/><stop offset="1.0000" stop-color="#4e6a10"/></linearGradient></defs>
<rect x="308.1" y="306.43" width="5" height="174.38" fill="#fff2ff"/>
<path d="M312,306.43 L320.1,306.43 L322.1,383 L327.1,386 L327.6,480.8 L312,480.8 Z" fill="#ffe0ff"/>
<path d="M309.4,492.8 L309.9,490.07 L310.7,480.32 L311.4,465.68 L312.1,441.3 L312.6,422.18 L313.1,390.39 L313.9,340.64 L314.6,317.23 L315,303.58 L315.4,297.73 L316,297.73 L316.5,303.58 L317.5,317.23 L319.1,340.64 L321.2,390.39 L322.2,422.18 L323,441.3 L324.2,465.68 L325.4,480.32 L327.9,490.07 L329.2,492.8 Z" fill="url(#pk0)"/>
<path d="M316.8,380 L317.9,420 L319.8,460 L320.7,480 L321.1,492.8 L329.2,492.8 L327.9,490.07 L325.4,480.32 L324.2,465.68 L323,441.3 L322.2,422.18 L321.2,390.39 L320.76,380 Z" fill="url(#sh)"/>
<rect x="312.1" y="493.4" width="8.5" height="3" fill="#c8fff4" opacity="0.8"/>
<rect x="337.09" y="302.7" width="5" height="178.1" fill="#fff2ff"/>
<path d="M340.99,302.7 L349.09,302.7 L351.09,383 L356.09,386 L356.59,480.8 L340.99,480.8 Z" fill="#ffe0ff"/>
<path d="M338.39,492.8 L338.89,490.02 L339.69,480.08 L340.39,465.17 L341.09,440.32 L341.59,420.83 L342.09,388.43 L342.89,337.74 L343.59,313.88 L343.99,299.96 L344.39,294 L344.99,294 L345.49,299.96 L346.49,313.88 L348.09,337.74 L350.19,388.43 L351.19,420.83 L351.99,440.32 L353.19,465.17 L354.39,480.08 L356.89,490.02 L358.19,492.8 Z" fill="url(#pk1)"/>
<path d="M345.79,380 L346.89,420 L348.79,460 L349.69,480 L350.09,492.8 L358.19,492.8 L356.89,490.02 L354.39,480.08 L353.19,465.17 L351.99,440.32 L351.19,420.83 L350.19,388.43 L349.84,380 Z" fill="url(#sh)"/>
<rect x="341.09" y="493.4" width="8.5" height="3" fill="#c8fff4" opacity="0.8"/>
<rect x="365.77" y="306.43" width="5" height="174.38" fill="#fff2ff"/>
<path d="M369.67,306.43 L377.77,306.43 L379.77,383 L384.77,386 L385.27,480.8 L369.67,480.8 Z" fill="#ffe0ff"/>
<path d="M367.07,492.8 L367.57,490.07 L368.37,480.32 L369.07,465.68 L369.77,441.3 L370.27,422.18 L370.77,390.39 L371.57,340.64 L372.27,317.23 L372.67,303.58 L373.07,297.73 L373.67,297.73 L374.17,303.58 L375.17,317.23 L376.77,340.64 L378.87,390.39 L379.87,422.18 L380.67,441.3 L381.87,465.68 L383.07,480.32 L385.57,490.07 L386.87,492.8 Z" fill="url(#pk2)"/>
<path d="M374.47,380 L375.57,420 L377.47,460 L378.37,480 L378.77,492.8 L386.87,492.8 L385.57,490.07 L383.07,480.32 L381.87,465.68 L380.67,441.3 L379.87,422.18 L378.87,390.39 L378.43,380 Z" fill="url(#sh)"/>
<rect x="369.77" y="493.4" width="8.5" height="3" fill="#c8fff4" opacity="0.8"/>
<rect x="394.86" y="300.21" width="5" height="180.59" fill="#fff2ff"/>
<path d="M398.76,300.21 L406.86,300.21 L408.86,383 L413.86,386 L414.36,480.8 L398.76,480.8 Z" fill="#ffe0ff"/>
<path d="M396.16,492.8 L396.66,489.98 L397.46,479.92 L398.16,464.82 L398.86,439.66 L399.36,419.93 L399.86,387.13 L400.66,335.8 L401.36,311.64 L401.76,297.55 L402.16,291.51 L402.76,291.51 L403.26,297.55 L404.26,311.64 L405.86,335.8 L407.96,387.13 L408.96,419.93 L409.76,439.66 L410.96,464.82 L412.16,479.92 L414.66,489.98 L415.96,492.8 Z" fill="url(#pk3)"/>
<path d="M403.56,380 L404.66,420 L406.56,460 L407.46,480 L407.86,492.8 L415.96,492.8 L414.66,489.98 L412.16,479.92 L410.96,464.82 L409.76,439.66 L408.96,419.93 L407.96,387.13 L407.67,380 Z" fill="url(#sh)"/>
<rect x="398.86" y="493.4" width="8.5" height="3" fill="#c8fff4" opacity="0.8"/>
<rect x="423.14" y="297.35" width="5" height="183.45" fill="#fff2ff"/>
<path d="M427.04,297.35 L435.14,297.35 L437.14,383 L442.14,386 L442.64,480.8 L427.04,480.8 Z" fill="#ffe0ff"/>
<path d="M424.44,492.8 L424.94,489.94 L425.74,479.73 L426.44,464.42 L427.14,438.91 L427.64,418.9 L428.14,385.63 L428.94,333.57 L429.64,309.07 L430.04,294.78 L430.44,288.66 L431.04,288.66 L431.54,294.78 L432.54,309.07 L434.14,333.57 L436.24,385.63 L437.24,418.9 L438.04,438.91 L439.24,464.42 L440.44,479.73 L442.94,489.94 L444.24,492.8 Z" fill="url(#pk4)"/>
<path d="M431.84,380 L432.94,420 L434.84,460 L435.74,480 L436.14,492.8 L444.24,492.8 L442.94,489.94 L440.44,479.73 L439.24,464.42 L438.04,438.91 L437.24,418.9 L436.24,385.63 L436.02,380 Z" fill="url(#sh)"/>
<rect x="427.14" y="493.4" width="8.5" height="3" fill="#c8fff4" opacity="0.8"/>
<rect x="452.73" y="334.75" width="5" height="146.05" fill="#fff2ff"/>
<path d="M456.63,334.75 L464.73,334.75 L466.73,383 L471.73,386 L472.23,480.8 L456.63,480.8 Z" fill="#ffe0ff"/>
<path d="M454.03,492.8 L454.53,490.47 L455.33,482.13 L456.03,469.62 L456.73,448.78 L457.23,432.44 L457.73,405.26 L458.53,362.74 L459.23,342.73 L459.63,331.06 L460.03,326.06 L460.63,326.06 L461.13,331.06 L462.13,342.73 L463.73,362.74 L465.83,405.26 L466.83,432.44 L467.63,448.78 L468.83,469.62 L470.03,482.13 L472.53,490.47 L473.83,492.8 Z" fill="url(#pk5)"/>
<path d="M461.43,380 L462.53,420 L464.43,460 L465.33,480 L465.73,492.8 L473.83,492.8 L472.53,490.47 L470.03,482.13 L468.83,469.62 L467.63,448.78 L466.83,432.44 L465.83,405.26 L464.58,380 Z" fill="url(#sh)"/>
<rect x="456.73" y="493.4" width="8.5" height="3" fill="#c8fff4" opacity="0.8"/>
<rect x="481.61" y="370.04" width="5" height="110.76" fill="#fff2ff"/>
<path d="M485.51,370.04 L493.61,370.04 L495.61,383 L500.61,386 L501.11,480.8 L485.51,480.8 Z" fill="#ffe0ff"/>
<path d="M482.91,492.8 L483.41,490.96 L484.21,484.39 L484.91,474.53 L485.61,458.1 L486.11,445.21 L486.61,423.79 L487.41,390.26 L488.11,374.49 L488.51,365.29 L488.91,361.34 L489.51,361.34 L490.01,365.29 L491.01,374.49 L492.61,390.26 L494.71,423.79 L495.71,445.21 L496.51,458.1 L497.71,474.53 L498.91,484.39 L501.41,490.96 L502.71,492.8 Z" fill="url(#pk6)"/>
<path d="M490.31,380 L491.41,420 L493.31,460 L494.21,480 L494.61,492.8 L502.71,492.8 L501.41,490.96 L498.91,484.39 L497.71,474.53 L496.51,458.1 L495.71,445.21 L494.71,423.79 L492.61,390.26 L491.57,380 Z" fill="url(#sh)"/>
<rect x="485.61" y="493.4" width="8.5" height="3" fill="#c8fff4" opacity="0.8"/>
<line x1="327.39" y1="279.3" x2="327.39" y2="492.8" stroke="#a8a8a8" stroke-width="1.0" />
<line x1="356.27" y1="279.3" x2="356.27" y2="492.8" stroke="#a8a8a8" stroke-width="1.0" />
<line x1="385.16" y1="279.3" x2="385.16" y2="492.8" stroke="#a8a8a8" stroke-width="1.0" />
<line x1="414.04" y1="279.3" x2="414.04" y2="492.8" stroke="#a8a8a8" stroke-width="1.0" />
<line x1="442.93" y1="279.3" x2="442.93" y2="492.8" stroke="#a8a8a8" stroke-width="1.0" />
<line x1="471.81" y1="279.3" x2="471.81" y2="492.8" stroke="#a8a8a8" stroke-width="1.0" />
<rect x="298.5" y="279.3" width="202.2" height="213.5" fill="none" stroke="#b4b4b4" stroke-width="1.2"/>
<line x1="312.94" y1="492.8" x2="312.94" y2="489.8" stroke="#555" stroke-width="0.8" />
<line x1="312.94" y1="279.3" x2="312.94" y2="282.3" stroke="#555" stroke-width="0.8" />
<line x1="341.83" y1="492.8" x2="341.83" y2="489.8" stroke="#555" stroke-width="0.8" />
<line x1="341.83" y1="279.3" x2="341.83" y2="282.3" stroke="#555" stroke-width="0.8" />
<line x1="370.71" y1="492.8" x2="370.71" y2="489.8" stroke="#555" stroke-width="0.8" />
<line x1="370.71" y1="279.3" x2="370.71" y2="282.3" stroke="#555" stroke-width="0.8" />
<line x1="399.6" y1="492.8" x2="399.6" y2="489.8" stroke="#555" stroke-width="0.8" />
<line x1="399.6" y1="279.3" x2="399.6" y2="282.3" stroke="#555" stroke-width="0.8" />
<line x1="428.49" y1="492.8" x2="428.49" y2="489.8" stroke="#555" stroke-width="0.8" />
<line x1="428.49" y1="279.3" x2="428.49" y2="282.3" stroke="#555" stroke-width="0.8" />
<line x1="457.37" y1="492.8" x2="457.37" y2="489.8" stroke="#555" stroke-width="0.8" />
<line x1="457.37" y1="279.3" x2="457.37" y2="282.3" stroke="#555" stroke-width="0.8" />
<line x1="486.26" y1="492.8" x2="486.26" y2="489.8" stroke="#555" stroke-width="0.8" />
<line x1="486.26" y1="279.3" x2="486.26" y2="282.3" stroke="#555" stroke-width="0.8" />
<line x1="298.5" y1="492.8" x2="301.5" y2="492.8" stroke="#555" stroke-width="0.8" />
<line x1="500.7" y1="492.8" x2="497.7" y2="492.8" stroke="#555" stroke-width="0.8" />
<line x1="298.5" y1="467.95" x2="301.5" y2="467.95" stroke="#555" stroke-width="0.8" />
<line x1="500.7" y1="467.95" x2="497.7" y2="467.95" stroke="#555" stroke-width="0.8" />
<line x1="298.5" y1="443.1" x2="301.5" y2="443.1" stroke="#555" stroke-width="0.8" />
<line x1="500.7" y1="443.1" x2="497.7" y2="443.1" stroke="#555" stroke-width="0.8" />
<line x1="298.5" y1="418.25" x2="301.5" y2="418.25" stroke="#555" stroke-width="0.8" />
<line x1="500.7" y1="418.25" x2="497.7" y2="418.25" stroke="#555" stroke-width="0.8" />
<line x1="298.5" y1="393.4" x2="301.5" y2="393.4" stroke="#555" stroke-width="0.8" />
<line x1="500.7" y1="393.4" x2="497.7" y2="393.4" stroke="#555" stroke-width="0.8" />
<line x1="298.5" y1="368.55" x2="301.5" y2="368.55" stroke="#555" stroke-width="0.8" />
<line x1="500.7" y1="368.55" x2="497.7" y2="368.55" stroke="#555" stroke-width="0.8" />
<line x1="298.5" y1="343.7" x2="301.5" y2="343.7" stroke="#555" stroke-width="0.8" />
<line x1="500.7" y1="343.7" x2="497.7" y2="343.7" stroke="#555" stroke-width="0.8" />
<line x1="298.5" y1="318.85" x2="301.5" y2="318.85" stroke="#555" stroke-width="0.8" />
<line x1="500.7" y1="318.85" x2="497.7" y2="318.85" stroke="#555" stroke-width="0.8" />
<line x1="298.5" y1="294" x2="301.5" y2="294" stroke="#555" stroke-width="0.8" />
<line x1="500.7" y1="294" x2="497.7" y2="294" stroke="#555" stroke-width="0.8" />
<text x="312.65" y="501.9" font-size="7.6" text-anchor="middle" fill="#363636" stroke="#363636" stroke-width="0.25" textLength="15.3" lengthAdjust="spacingAndGlyphs" >Mon</text>
<text x="341.8" y="501.9" font-size="7.6" text-anchor="middle" fill="#363636" stroke="#363636" stroke-width="0.25" textLength="12.8" lengthAdjust="spacingAndGlyphs" >Tue</text>
<text x="369.85" y="501.9" font-size="7.6" text-anchor="middle" fill="#363636" stroke="#363636" stroke-width="0.25" textLength="14.9" lengthAdjust="spacingAndGlyphs" >Wed</text>
<text x="399.9" y="501.9" font-size="7.6" text-anchor="middle" fill="#363636" stroke="#363636" stroke-width="0.25" textLength="13.2" lengthAdjust="spacingAndGlyphs" >Thu</text>
<text x="427.7" y="501.9" font-size="7.6" text-anchor="middle" fill="#363636" stroke="#363636" stroke-width="0.25" textLength="9.6" lengthAdjust="spacingAndGlyphs" >Fri</text>
<text x="456.8" y="501.9" font-size="7.6" text-anchor="middle" fill="#363636" stroke="#363636" stroke-width="0.25" textLength="12.8" lengthAdjust="spacingAndGlyphs" >Sat</text>
<text x="485.75" y="501.9" font-size="7.6" text-anchor="middle" fill="#363636" stroke="#363636" stroke-width="0.25" textLength="13.8" lengthAdjust="spacingAndGlyphs" >Sun</text>
<text x="295.5" y="495.8" font-size="8.5" text-anchor="end" fill="#363636" stroke="#363636" stroke-width="0.25" >0.0</text>
<text x="295.5" y="470.95" font-size="8.5" text-anchor="end" fill="#363636" stroke="#363636" stroke-width="0.25" >0.2</text>
<text x="295.5" y="446.1" font-size="8.5" text-anchor="end" fill="#363636" stroke="#363636" stroke-width="0.25" >0.4</text>
<text x="295.5" y="421.25" font-size="8.5" text-anchor="end" fill="#363636" stroke="#363636" stroke-width="0.25" >0.6</text>
<text x="295.5" y="396.4" font-size="8.5" text-anchor="end" fill="#363636" stroke="#363636" stroke-width="0.25" >0.8</text>
<text x="295.5" y="371.55" font-size="8.5" text-anchor="end" fill="#363636" stroke="#363636" stroke-width="0.25" >1.0</text>
<text x="295.5" y="346.7" font-size="8.5" text-anchor="end" fill="#363636" stroke="#363636" stroke-width="0.25" >1.2</text>
<text x="295.5" y="321.85" font-size="8.5" text-anchor="end" fill="#363636" stroke="#363636" stroke-width="0.25" >1.4</text>
<text x="295.5" y="297" font-size="8.5" text-anchor="end" fill="#363636" stroke="#363636" stroke-width="0.25" >1.6</text>
<text x="399.6" y="513.2" font-size="9.8" text-anchor="middle" fill="#363636" stroke="#363636" stroke-width="0.25" textLength="40.1" lengthAdjust="spacingAndGlyphs" >Weekday</text>
<text x="399.5" y="274.4" font-size="10.5" text-anchor="middle" fill="#363636" stroke="#363636" stroke-width="0.25" textLength="14.8" lengthAdjust="spacingAndGlyphs" >(d)</text>
<text x="277.5" y="386.8" font-size="9.2" text-anchor="middle" fill="#363636" stroke="#363636" stroke-width="0.25" textLength="98" lengthAdjust="spacingAndGlyphs" transform="rotate(-90 277.5 386.8)" >Charging power [MW]</text>
<rect x="281.4" y="529.1" width="235.7" height="14" rx="1.5" fill="#fff" stroke="#e2e2e2" stroke-width="0.8"/>
<rect x="287.4" y="529.6" width="9" height="13" fill="#e4fff8"/>
<rect x="345" y="529.6" width="22" height="13" fill="#ffe8ff"/>
<rect x="284.1" y="533.3" width="15.2" height="4.6" fill="#2f5d00"/>
<text x="305.7" y="538" font-size="8.2" text-anchor="start" fill="#363636" stroke="#363636" stroke-width="0.25" >3.7 kW</text>
<rect x="349.6" y="533.3" width="15.2" height="4.6" fill="#7a3210"/>
<text x="370" y="538" font-size="8.2" text-anchor="start" fill="#363636" stroke="#363636" stroke-width="0.25" >11 kW</text>
<rect x="408.9" y="533.3" width="15.2" height="4.6" fill="#1010e0"/>
<text x="430.1" y="538" font-size="8.2" text-anchor="start" fill="#363636" stroke="#363636" stroke-width="0.25" >22 kW</text>
<rect x="469.4" y="533.3" width="15.2" height="4.6" fill="#000"/>
<text x="490.4" y="538" font-size="8.2" text-anchor="start" fill="#363636" stroke="#363636" stroke-width="0.25" >50 kW</text>
</svg></body></html>
